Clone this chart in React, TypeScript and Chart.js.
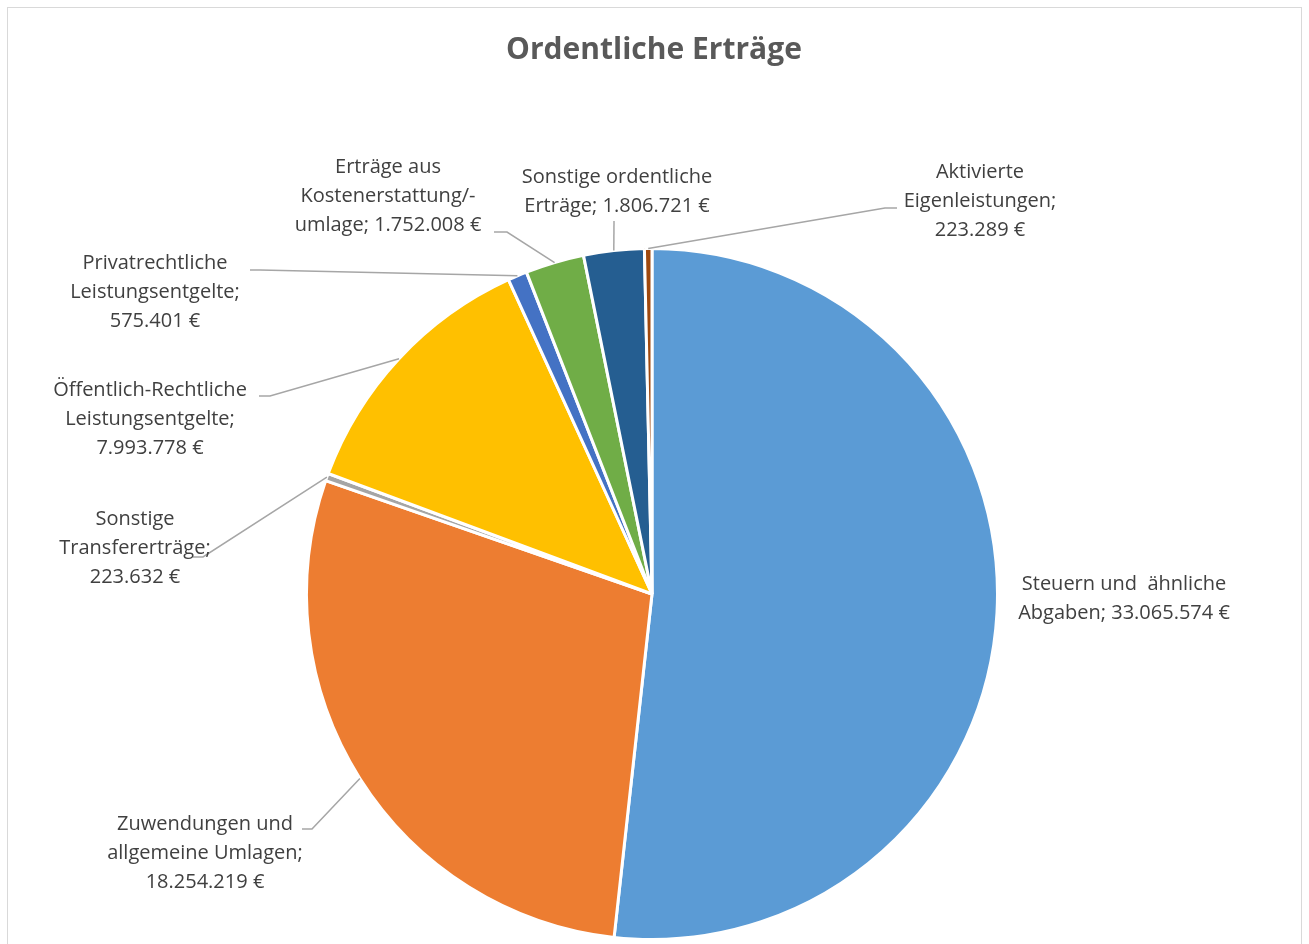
import { useEffect, useRef } from "react";
import { Chart, registerables } from "chart.js";

Chart.register(...registerables);

const TITLE = "Ordentliche Erträge";

const CATEGORIES = [
  "Steuern und  ähnliche\nAbgaben",
  "Zuwendungen und\nallgemeine Umlagen",
  "Sonstige\nTransfererträge",
  "Öffentlich-Rechtliche\nLeistungsentgelte",
  "Privatrechtliche\nLeistungsentgelte",
  "Erträge aus\nKostenerstattung/-\numlage",
  "Sonstige ordentliche\nErträge",
  "Aktivierte\nEigenleistungen",
];

const VALUES = [33065574, 18254219, 223632, 7993778, 575401, 1752008, 1806721, 223289];

const COLORS = ["#5B9BD5", "#ED7D31", "#A5A5A5", "#FFC000", "#4472C4", "#70AD47", "#255E91", "#9E480E"];

// Label placement (layout only): centre x, first line centre y, value on new line, leader elbow/end points
const LABEL_LAYOUT: { x: number; y: number; nl: boolean; leader: number[][] | null }[] = [
  { x: 1124, y: 584, nl: false, leader: null },
  { x: 205, y: 824, nl: true, leader: [[312, 829], [302, 829]] },
  { x: 135, y: 519, nl: true, leader: [[203, 557], [193, 557]] },
  { x: 150, y: 390, nl: true, leader: [[270, 396], [259, 396]] },
  { x: 155, y: 263, nl: true, leader: [[260, 270], [250, 270]] },
  { x: 388, y: 167, nl: false, leader: [[507, 232], [494, 232]] },
  { x: 617, y: 177, nl: false, leader: [[614, 221]] },
  { x: 980, y: 172, nl: true, leader: [[885, 208], [897, 208]] },
];

const fmt = (v: number) => v.toLocaleString("de-DE") + " €";

const labelPlugin = {
  id: "customLabels",
  beforeDraw(chart: any) {
    const ctx = chart.ctx;
    ctx.save();
    ctx.fillStyle = "#FFFFFF";
    ctx.fillRect(0, 0, chart.width, chart.height);
    ctx.strokeStyle = "#D9D9D9";
    ctx.lineWidth = 1;
    ctx.strokeRect(7.5, 7.5, 1294, 960);
    ctx.restore();
  },
  afterDraw(chart: any) {
    const ctx = chart.ctx;
    const meta = chart.getDatasetMeta(0);
    ctx.save();
    ctx.fillStyle = "#595959";
    ctx.font = "bold 30px 'Open Sans'";
    ctx.textAlign = "center";
    ctx.textBaseline = "middle";
    ctx.fillText(TITLE, 654, 50);

    meta.data.forEach((arc: any, i: number) => {
      const lay = LABEL_LAYOUT[i];
      const mid = (arc.startAngle + arc.endAngle) / 2;
      if (lay.leader) {
        const sx = arc.x + Math.cos(mid) * arc.outerRadius;
        const sy = arc.y + Math.sin(mid) * arc.outerRadius;
        ctx.strokeStyle = "#A6A6A6";
        ctx.lineWidth = 1.5;
        ctx.beginPath();
        ctx.moveTo(sx, sy);
        lay.leader.forEach((p) => ctx.lineTo(p[0], p[1]));
        ctx.stroke();
      }
      const nameLines = CATEGORIES[i].split("\n");
      const valueText = fmt(VALUES[i]);
      let lines: string[];
      if (lay.nl) {
        lines = [...nameLines.slice(0, -1), nameLines[nameLines.length - 1] + ";", valueText];
      } else {
        lines = [...nameLines.slice(0, -1), nameLines[nameLines.length - 1] + "; " + valueText];
      }
      ctx.fillStyle = "#404040";
      ctx.font = "20px 'Open Sans'";
      ctx.textAlign = "center";
      ctx.textBaseline = "middle";
      lines.forEach((ln, k) => ctx.fillText(ln, lay.x, lay.y + k * 29.2));
    });
    ctx.restore();
  },
};

export default function App() {
  const ref = useRef<HTMLCanvasElement | null>(null);
  useEffect(() => {
    document.body.style.margin = "0";
    if (!ref.current) return;
    const chart = new Chart(ref.current, {
      type: "pie",
      data: {
        labels: CATEGORIES,
        datasets: [
          {
            data: VALUES,
            backgroundColor: COLORS,
            borderColor: "#FFFFFF",
            borderWidth: 3,
          },
        ],
      },
      options: {
        animation: false,
        responsive: false,
        devicePixelRatio: 1,
        layout: { padding: { left: 305, right: 310, top: 247, bottom: 3 } },
        plugins: {
          legend: { display: false },
          title: { display: false },
          tooltip: { enabled: false },
        },
      },
      plugins: [labelPlugin],
    });
    return () => chart.destroy();
  }, []);
  return <canvas ref={ref} width={1309} height={944} style={{ display: "block" }} />;
}
